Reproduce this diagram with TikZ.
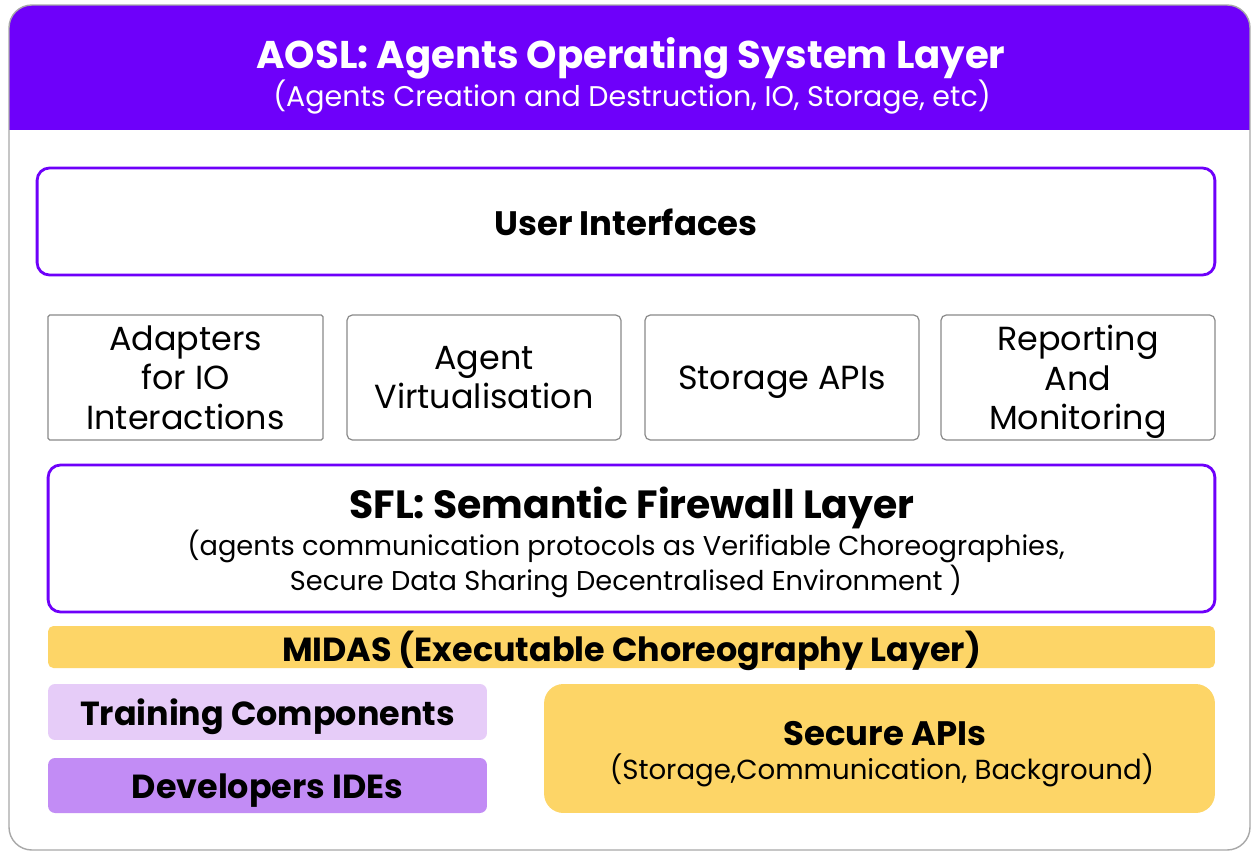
\documentclass[tikz,border=0pt]{standalone}
\usepackage{fontspec}
\setmainfont{Poppins}
\definecolor{aoslpurple}{HTML}{6E00FA}
\definecolor{midasyellow}{HTML}{FDD567}
\definecolor{lightlilac}{HTML}{E6CCF8}
\definecolor{lilac}{HTML}{C28CF5}
\definecolor{framegray}{HTML}{A8A8A8}
\definecolor{boxgray}{HTML}{8A8A8A}
\begin{document}
\begin{tikzpicture}
[
x=0.02cm, y=-0.02cm,
layerbox/.style={draw=aoslpurple, line width=1.6pt, rounded corners=7pt, fill=white, align=center, inner sep=0},
servicebox/.style={draw=boxgray, line width=0.7pt, rounded corners=3pt, fill=white, minimum width=5.48cm, minimum height=2.5cm, align=center, inner sep=0, text depth=0pt, font=\fontsize{19}{22.6}\selectfont},
midasbar/.style={fill=midasyellow, rounded corners=3pt, inner sep=0, text height=16.7pt, text depth=0pt, font=\fontsize{19}{22}\selectfont\bfseries},
toolbox/.style={rounded corners=4pt, inner sep=0, minimum width=8.78cm, minimum height=1.1cm, text height=15.3pt, text depth=0pt, font=\fontsize{19}{22}\selectfont\bfseries}
]
\useasboundingbox (0,0) rectangle (1252,852);
%Frame and header
\fill[white] (9,5) [rounded corners=13pt] rectangle (1250,850);
\begin{scope}
\clip (9,5) [rounded corners=13pt] rectangle (1250,850);
\fill[aoslpurple] (9,5) rectangle (1250,130);
\end{scope}
\draw[framegray, line width=0.8pt] (9,5) [rounded corners=13pt] rectangle (1250,850);
%Nodes
\node[text=white, font=\fontsize{22}{26}\selectfont\bfseries] (aosl) at(631,58) {AOSL: Agents Operating System Layer};
\node[text=white, font=\fontsize{16.2}{19}\selectfont] (aoslsub) at(632,97) {(Agents Creation and Destruction, IO, Storage, etc)};
\node[layerbox, minimum width=23.56cm, minimum height=2.14cm, text height=16.4pt, text depth=0pt, font=\fontsize{19.3}{22}\selectfont\bfseries] (ui) at(626,221.5) {User Interfaces};
\node[servicebox, minimum width=5.5cm, rounded corners=1pt] (adapt) at(185.5,377.5) {Adapters\\for IO\\Interactions};
\node[servicebox] (virt) at(484,377.5) {Agent\\Virtualisation};
\node[servicebox] (store) at(782,377.5) {Storage APIs};
\node[servicebox] (report) at(1078,377.5) {Reporting\\And\\Monitoring};
\node[layerbox, minimum width=23.34cm, minimum height=2.94cm] (sfl) at(631.5,538.5) {};
\node[font=\fontsize{22.4}{26}\selectfont\bfseries] (sfltitle) at(632,508) {SFL: Semantic Firewall Layer};
\node[font=\fontsize{15.5}{18.2}\selectfont, align=center] (sflsub) at(626,564) {(agents communication protocols as Verifiable Choreographies,\\Secure Data Sharing Decentralised Environment )};
\node[midasbar, minimum width=23.34cm, minimum height=0.84cm] (midas) at(631.5,647) {MIDAS (Executable Choreography Layer)};
\node[toolbox, fill=lightlilac, minimum height=1.12cm] (train) at(267.5,712) {Training Components};
\node[toolbox, fill=lilac] (ide) at(267.5,785.5) {Developers IDEs};
\node[fill=midasyellow, rounded corners=11pt, minimum width=13.42cm, minimum height=2.58cm] (secure) at(879.5,748.5) {};
\node[font=\fontsize{19.3}{22}\selectfont\bfseries] (securetitle) at(885,734) {Secure APIs};
\node[font=\fontsize{15.7}{18}\selectfont] (securesub) at(882,770) {(Storage,Communication, Background)};
\end{tikzpicture}
\end{document}
